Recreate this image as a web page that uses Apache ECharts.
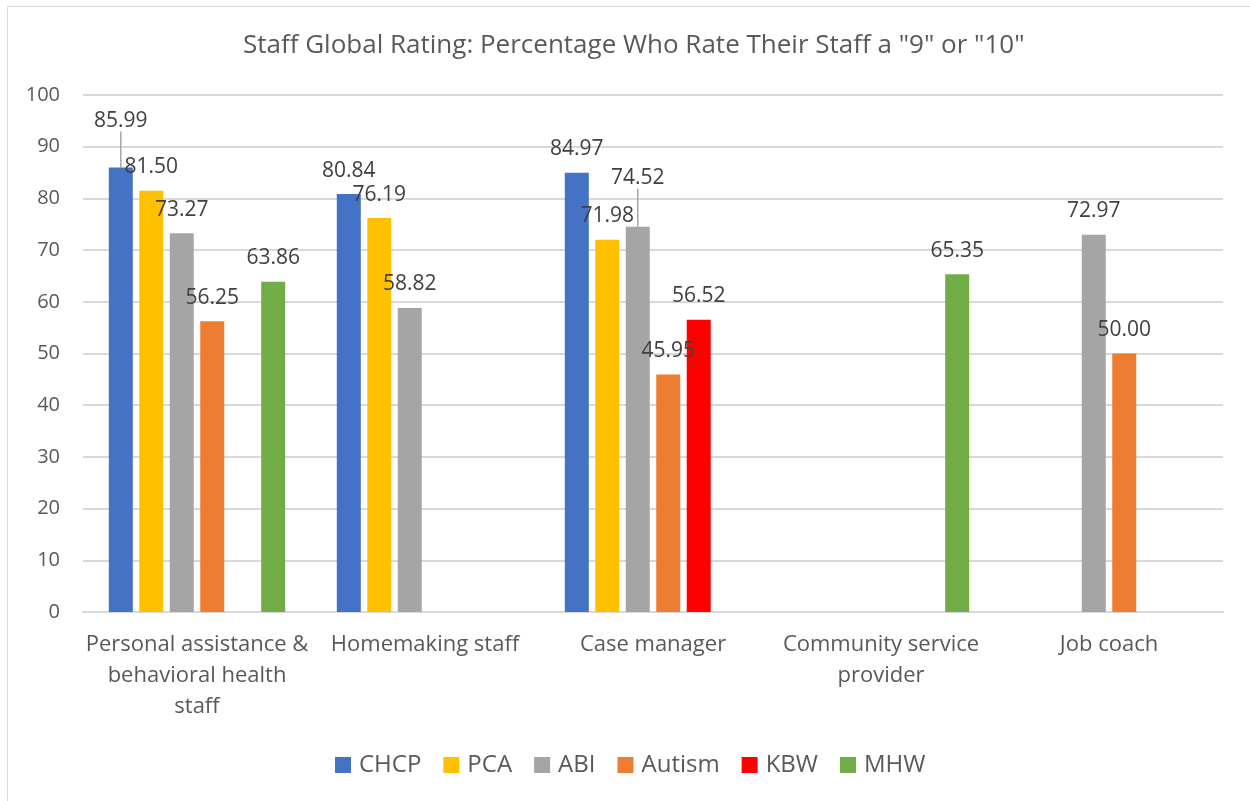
<!DOCTYPE html>
<html>
<head>
<meta charset="utf-8">
<script src="https://cdn.jsdelivr.net/npm/echarts@6/dist/echarts.min.js"></script>
<style>
  html, body { margin: 0; padding: 0; background: #fff; }
  .frame {
    position: absolute; left: 7px; top: 6px; width: 1260px; height: 820px;
    border: 1px solid #d9d9d9; box-sizing: border-box;
  }
  #chart { position: absolute; left: 0; top: 0; width: 1250px; height: 801px; }
</style>
</head>
<body>
<div class="frame"></div>
<div id="chart"></div>
<script>
  // categories and series values (null = no bar)
  var categories = ['Personal assistance &\nbehavioral health\nstaff', 'Homemaking staff', 'Case manager', 'Community service\nprovider', 'Job coach']
  var chcp   = [85.99, 80.84, 84.97, null, null]
  var pca    = [81.50, 76.19, 71.98, null, null]
  var abi    = [73.27, 58.82, 74.52, null, 72.97]
  var autism = [56.25, null, 45.95, null, 50.00]
  var kbw    = [null, null, 56.52, null, null]
  var mhw    = [63.86, null, null, 65.35, null]

  var seriesNames = ['CHCP', 'PCA', 'ABI', 'Autism', 'KBW', 'MHW']
  var seriesData = [chcp, pca, abi, autism, kbw, mhw]
  var colors = ['#4472C4', '#FFC000', '#A5A5A5', '#ED7D31', '#FF0000', '#70AD47']

  // labels moved up by hand in the original (with leader line)
  var movedLabels = { '0-0': -23, '2-2': -25 }

  var font = '"Open Sans", sans-serif'

  var chart = echarts.init(document.getElementById('chart'))
  chart.setOption({
    animation: false,
    textStyle: { fontFamily: font },
    title: {
      text: 'Staff Global Rating: Percentage Who Rate Their Staff a "9" or "10"',
      left: 238,
      top: 28,
      textStyle: { fontSize: 26, fontWeight: 'normal', color: '#595959', fontFamily: font }
    },
    legend: {
      top: 748,
      left: 330,
      itemWidth: 16,
      itemHeight: 16,
      itemGap: 22,
      icon: 'rect',
      textStyle: { fontSize: 24, color: '#595959', fontFamily: font, padding: [0, 0, 0, 3] },
      data: seriesNames
    },
    grid: { left: 83, right: 27, top: 95, bottom: 189, containLabel: false },
    xAxis: {
      type: 'category',
      data: categories,
      axisLine: { lineStyle: { color: '#d9d9d9', width: 2 } },
      axisTick: { show: false },
      axisLabel: {
        fontSize: 22, color: '#595959', lineHeight: 31, margin: 17,
        interval: 0, fontFamily: font
      }
    },
    yAxis: {
      type: 'value',
      min: 0,
      max: 100,
      interval: 10,
      axisLine: { show: false },
      axisTick: { show: false },
      splitLine: { lineStyle: { color: '#d9d9d9', width: 2 } },
      axisLabel: { fontSize: 20, color: '#595959', margin: 23, fontFamily: font }
    },
    series: seriesNames.map(function (name, i) {
      return {
        name: name,
        type: 'bar',
        data: seriesData[i].map(function (v, j) {
          return movedLabels[i + '-' + j] ? { value: v, labelLine: { show: true } } : v
        }),
        barWidth: 24,
        barGap: '27%',
        itemStyle: { color: colors[i] },
        label: {
          show: true,
          position: 'top',
          distance: 13,
          fontSize: 21,
          color: '#404040',
          fontFamily: font,
          formatter: function (p) { return p.value == null ? '' : p.value.toFixed(2) }
        },
        labelLine: { show: false, lineStyle: { color: '#a6a6a6', width: 1.5 } },
        labelLayout: function (p) {
          var dy = movedLabels[i + '-' + p.dataIndex]
          return dy ? { dy: dy } : {}
        }
      }
    })
  })
</script>
</body>
</html>
